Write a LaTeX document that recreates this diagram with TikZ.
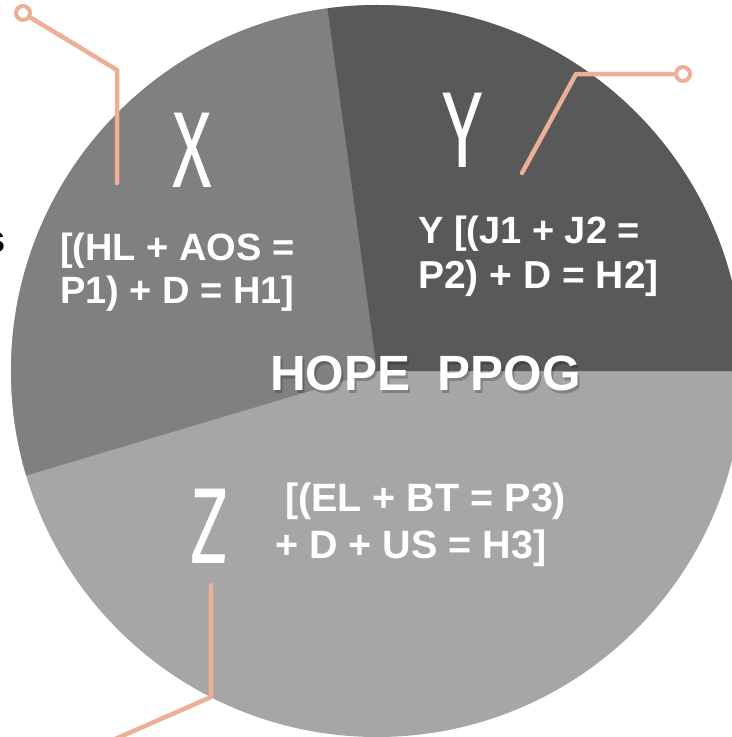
\documentclass[tikz,border=0pt]{standalone}
\usepackage{fontspec}
\setmainfont{Liberation Sans}
\newfontfamily\thinf{Fira Sans}
\definecolor{colX}{HTML}{808080}
\definecolor{colY}{HTML}{595959}
\definecolor{colZ}{HTML}{A6A6A6}
\definecolor{conn}{HTML}{EBB096}
\begin{document}
\begin{tikzpicture}[x=1bp,y=-1bp,
  lbl/.style={text=white,font=\bfseries\fontsize{38bp}{44bp}\selectfont,inner sep=0pt,anchor=base west},
  big/.style={text=white,font=\thinf\fontsize{108bp}{110bp}\selectfont,inner sep=0pt,anchor=base},
  connector/.style={draw=conn,line width=4.5bp,line cap=round,line join=round},
  endring/.style={circle,draw=conn,line width=4bp,fill=white,minimum size=14bp,inner sep=0pt}]
\useasboundingbox (0,0) rectangle (732,737);
\clip (0,0) rectangle (732,737);
\coordinate (c) at (377,371);
\fill[colZ] (c) circle[radius=366bp];
\begin{scope}
  \clip (c) circle[radius=366bp];
  \fill[colX] (c) -- (308,-134) -- (-400,-134) -- (-321,579) -- cycle;
  \fill[colY] (c) -- (308,-134) -- (900,-134) -- (900,371) -- cycle;
\end{scope}
% big letters
\node[big] (bx) at (192,187) {\scalebox{0.68}[1]{X}};
\node[big] (by) at (463,167) {\scalebox{0.68}[1]{Y}};
\node[big] (bz) at (210,563) {\scalebox{0.68}[1]{Z}};
% connectors
\node[endring] (xr) at (23,13) {};
\coordinate (xk) at (117,70);
\coordinate (xe) at (117,183);
\draw[connector] (xr) -- (xk) -- (xe);
\node[endring] (yr) at (683,74) {};
\coordinate (yk) at (576,74);
\coordinate (ye) at (522,173);
\draw[connector] (ye) -- (yk) -- (yr);
\coordinate (zs) at (211,585);
\coordinate (zk) at (211,697);
\coordinate (zo) at (40,772);
\draw[connector] (zs) -- (zk) -- (zo);
% formula texts
\node[lbl] (x1) at (60,260) {[(HL + AOS =};
\node[lbl] (x2) at (60,303) {P1) + D = H1]};
\node[lbl] (y1) at (418,243) {Y [(J1 + J2 =};
\node[lbl,font=\bfseries\fontsize{39bp}{44bp}\selectfont] (y2) at (418,288) {P2) + D = H2]};
\node[lbl,font=\bfseries\fontsize{39.5bp}{44bp}\selectfont] (z1) at (285,511) {[(EL + BT = P3)};
\node[lbl,font=\bfseries\fontsize{39.5bp}{44bp}\selectfont] (z2) at (275,558) {+ D + US = H3]};
% title with soft shadow
\node[lbl,text=black,opacity=0.22,font=\bfseries\fontsize{49.5bp}{52bp}\selectfont] (hs) at (272,393) {HOPE\ \ PPOG};
\node[lbl,font=\bfseries\fontsize{49.5bp}{52bp}\selectfont] (hp) at (270,390) {HOPE\ \ PPOG};
% cut-off letter at left edge
\node[lbl,text=black,anchor=base east] (s) at (6,252) {s};
\end{tikzpicture}
\end{document}
